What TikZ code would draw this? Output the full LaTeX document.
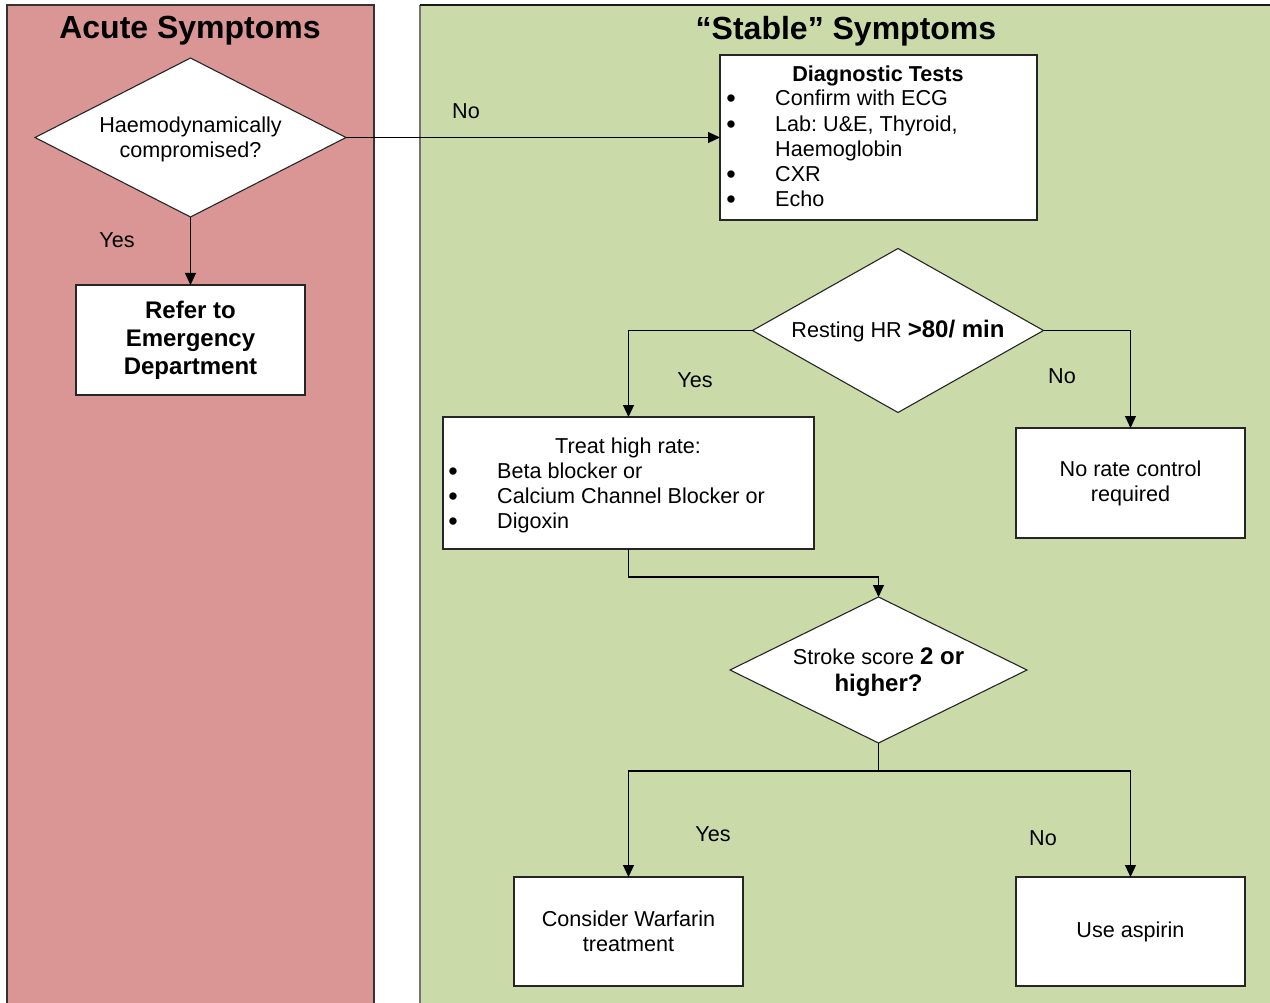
\documentclass[tikz,border=0pt]{standalone}
\usepackage{fontspec}
\setmainfont{Liberation Sans}
\usetikzlibrary{shapes.geometric,arrows.meta}
\definecolor{acute}{HTML}{D99694}
\definecolor{stable}{HTML}{CBDAA9}
\frenchspacing
\begin{document}
\begin{tikzpicture}[x=1pt,y=-1pt,
  reg/.style={font=\fontsize{21.6}{25}\selectfont},
  title/.style={font=\bfseries\fontsize{32}{38}\selectfont},
  box/.style={draw=black!85, line width=1.1pt, fill=white, rectangle, inner sep=0pt, outer sep=0pt, align=center},
  dia/.style={draw=black!85, line width=1.1pt, fill=white, diamond, inner sep=0pt, outer sep=0pt, align=center},
  conn/.style={line width=1.1pt, draw=black},
  arr/.style={conn, -{Triangle[length=12pt,width=11pt]}},
  lbl/.style={reg, inner sep=0pt},
  item/.style={reg, inner sep=0pt, anchor=base west},
  bul/.style={font=\fontsize{27}{20}\selectfont, inner sep=0pt, anchor=base}
]
\useasboundingbox (0,0) rectangle (1270,1003);
% panels
\fill[acute] (7,5) rectangle (374,1010);
\draw[line width=1.2pt, black!80] (7,1010) -- (7,5) -- (374,5) -- (374,1010);
\fill[stable] (420,5) rectangle (1280,1010);
\draw[line width=1.2pt, black!55] (420,1010) -- (420,5);
\draw[line width=1.2pt, black!90] (420,5) -- (1280,5);
\node[title] (t1) at (190,31) {Acute Symptoms};
\node[title] (t2) at (846,31) {“Stable” Symptoms};

% acute
\node[dia, minimum width=311pt, minimum height=159pt, aspect=1.96] (d1) at (190.5,137.5) {};
\node[reg, inner sep=0pt, align=center] (d1t) at (190.5,139) {Haemodynamically\\compromised?};
\node[box, font=\bfseries\fontsize{24}{28}\selectfont, minimum width=229pt, minimum height=110pt] (ed) at (190.5,340) {Refer to\\Emergency\\Department};

% diagnostic tests
\node[box, minimum width=317pt, minimum height=165pt] (diag) at (878.5,137.5) {};
\node[font=\bfseries\fontsize{21.6}{25}\selectfont, inner sep=0pt, anchor=base] (dgt) at (878,82) {Diagnostic Tests};
\node[bul] (b1) at (731,108) {•};
\node[item] (l1) at (775,106) {Confirm with ECG};
\node[bul] (b2) at (731,134) {•};
\node[item] (l2) at (775,132) {Lab: U\&E, Thyroid,};
\node[item] (l3) at (775,157) {Haemoglobin};
\node[bul] (b4) at (731,184) {•};
\node[item] (l4) at (775,182) {CXR};
\node[bul] (b5) at (731,209) {•};
\node[item] (l5) at (775,207) {Echo};

% resting HR
\node[dia, minimum width=291pt, minimum height=164pt, aspect=1.77] (d2) at (898,330.5) {};
\node[reg, inner sep=0pt] (d2t) at (898,331) {Resting HR {\bfseries\fontsize{24}{28}\selectfont >80/ min}};

% treat box
\node[box, minimum width=371pt, minimum height=132pt] (treat) at (628.5,483) {};
\node[reg, inner sep=0pt, anchor=base] (tt) at (628,453) {Treat high rate:};
\node[bul] (tb1) at (453,480) {•};
\node[item] (tl1) at (497,478) {Beta blocker or};
\node[bul] (tb2) at (453,505) {•};
\node[item] (tl2) at (497,503) {Calcium Channel Blocker or};
\node[bul] (tb3) at (453,530) {•};
\node[item] (tl3) at (497,528) {Digoxin};

\node[box, reg, minimum width=229pt, minimum height=110pt] (norate) at (1130.5,483) {No rate control\\required};

% stroke
\node[dia, minimum width=297pt, minimum height=146pt, aspect=2.03] (d3) at (878.5,670) {};
\node[inner sep=0pt, align=center, font=\fontsize{21.6}{27}\selectfont] (d3t) at (878.5,672) {Stroke score {\bfseries\fontsize{24}{27}\selectfont 2 or}\\{\bfseries\fontsize{24}{27}\selectfont higher?}};

\node[box, reg, minimum width=229pt, minimum height=109pt] (warf) at (628.5,931.5) {Consider Warfarin\\treatment};
\node[box, reg, minimum width=229pt, minimum height=109pt] (asp) at (1130.5,931.5) {Use aspirin};

% connectors
\draw[arr] (d1.south) -- (ed.north);
\draw[arr] (d1.east) -- (diag.west);
\draw[arr] (d2.west) -| (treat.north);
\draw[arr] (d2.east) -| (norate.north);
\draw[arr] (treat.south) -- ++(0,28) -| (d3.north);
\draw[conn] (d3.south) -- ++(0,28) coordinate (j);
\draw[arr] (j) -| (warf.north);
\draw[arr] (j) -| (asp.north);

% labels
\node[lbl] (y1) at (117,240) {Yes};
\node[lbl] (n1) at (466,111) {No};
\node[lbl] (y2) at (695,380) {Yes};
\node[lbl] (n2) at (1062,376) {No};
\node[lbl] (y3) at (713,834) {Yes};
\node[lbl] (n3) at (1043,838) {No};
\end{tikzpicture}
\end{document}
